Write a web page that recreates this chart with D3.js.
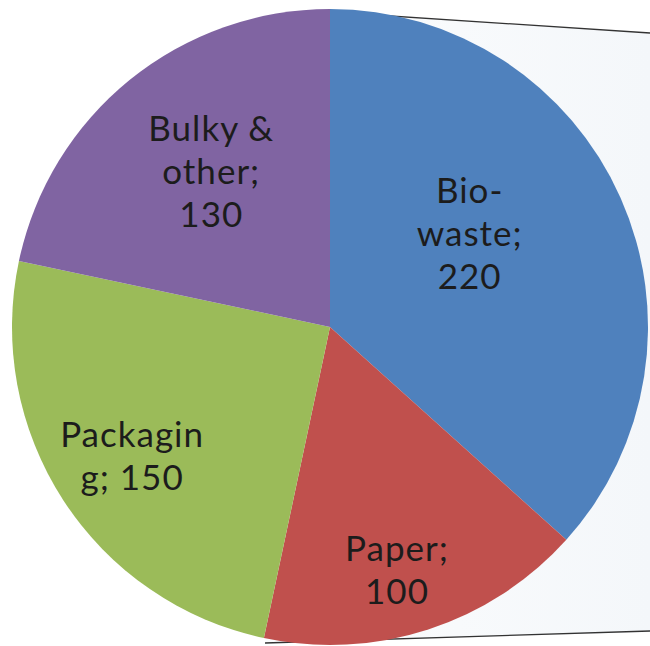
<!DOCTYPE html>
<html><head><meta charset="utf-8">
<script src="https://cdn.jsdelivr.net/npm/d3@7"></script>
<style>html,body{margin:0;padding:0;background:#fff;}svg{display:block;}</style>
</head><body>
<svg id="c" width="650" height="646"></svg>
<script>
const categories = ["Bio-waste", "Paper", "Packaging", "Bulky & other"];
const values = [220, 100, 150, 130];
const labelLines = [["Bio-", "waste;", "220"], ["Paper;", "100"], ["Packagin", "g; 150"], ["Bulky &", "other;", "130"]];
const colors = ["#4F81BD", "#C0504D", "#9BBB59", "#8064A2"];
const labelRadius = [168, 252, 236, 196];
const labelAngleShift = [-0.17, 0.045, 0, 0.03];

const svg = d3.select("#c");
const W = 650, H = 646;
const cx = 330, cy = 327, R = 318;

// slide background frame
const defs = svg.append("defs");
const g1 = defs.append("linearGradient").attr("id","bg").attr("x1","0").attr("x2","1").attr("y1","0").attr("y2","0");
g1.append("stop").attr("offset","0").attr("stop-color","#fcfdfe");
g1.append("stop").attr("offset","1").attr("stop-color","#f4f7fa");
svg.append("path")
  .attr("d", `M${cx},12 L${W},33 L${W},632 L265,643 Z`)
  .attr("fill","url(#bg)");
svg.append("path").attr("d", `M${cx},12 L${W},33`).attr("stroke","#333").attr("stroke-width",1.3).attr("fill","none");
svg.append("path").attr("d", `M265,643 L${W},631`).attr("stroke","#333").attr("stroke-width",1.3).attr("fill","none");

const pie = d3.pie().sort(null).value(d => d)(values);
const arc = d3.arc().innerRadius(0).outerRadius(R);
const g = svg.append("g").attr("transform", `translate(${cx},${cy})`);
g.selectAll("path.slice").data(pie).join("path")
  .attr("class","slice")
  .attr("d", arc)
  .attr("fill", (d,i) => colors[i]);

const fs = 35, lh = 43;
pie.forEach((d,i) => {
  const a = (d.startAngle + d.endAngle)/2 + labelAngleShift[i];
  const x = Math.sin(a) * labelRadius[i];
  const y = -Math.cos(a) * labelRadius[i];
  const lines = labelLines[i];
  const t = g.append("text")
    .attr("text-anchor","middle")
    .attr("font-family","Lato, 'Open Sans', sans-serif")
    .attr("font-size", fs)
    .attr("letter-spacing", 1)
    .attr("fill","#1c1c1c");
  lines.forEach((ln, k) => {
    t.append("tspan").attr("x", x)
      .attr("y", y + (k - (lines.length-1)/2) * lh + fs*0.36)
      .text(ln);
  });
});
</script>
</body></html>
